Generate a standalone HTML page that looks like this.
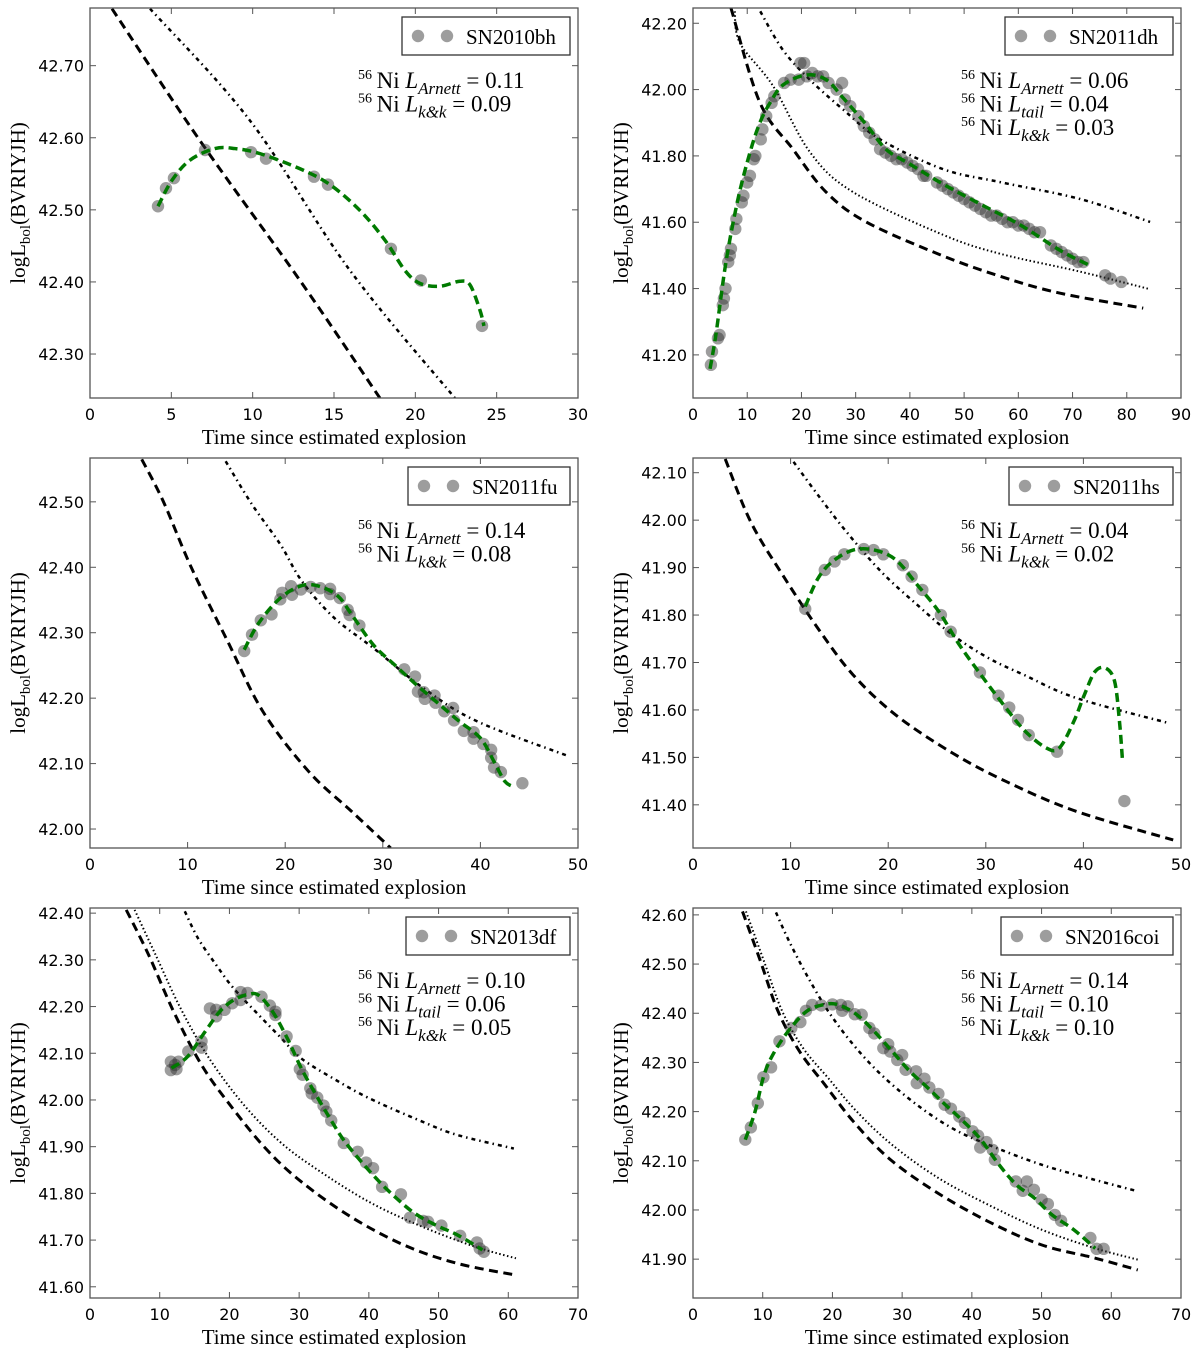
<!DOCTYPE html>
<html><head><meta charset="utf-8"><title>Bolometric light curves</title>
<style>
html,body{margin:0;padding:0;background:#fff;}
svg{display:block;}
.tick{font-family:"DejaVu Sans","Liberation Sans",sans-serif;font-size:16px;fill:#000;}
.ser{font-family:"Liberation Serif","DejaVu Serif",serif;fill:#000;}
</style></head>
<body>
<svg id="fig" width="1200" height="1348" viewBox="0 0 1200 1348" xmlns="http://www.w3.org/2000/svg"></svg>
<script>
// ---------- Panel 1: SN2010bh ----------
const p1_time = [4.18,4.67,5.16,7.07,9.90,10.82,13.77,14.63,18.5,20.34,24.1];
const p1_lum = [42.505,42.530,42.544,42.583,42.580,42.571,42.546,42.535,42.446,42.402,42.339];
const p1_fitT = [4.18,5.04,6.15,7.68,8.91,10.45,12.91,14.75,16.6,18.13,19.36,20.28,21.51,22.74,23.36,23.97,24.22];
const p1_fitL = [42.505,42.541,42.569,42.585,42.585,42.578,42.557,42.535,42.499,42.458,42.416,42.398,42.394,42.401,42.396,42.361,42.339];
const p1_arnT = [1.35,6.76,12.91,17.82];
const p1_arnL = [42.779,42.596,42.402,42.239];
const p1_kkT = [3.69,9.83,15.98,22.43];
const p1_kkL = [42.779,42.624,42.416,42.239];

// ---------- Panel 2: SN2011dh ----------
const p2_time = [3.3,3.5,4.6,4.9,5.5,5.7,6.0,6.5,6.8,7.0,7.8,8.0,9.0,9.3,10.0,10.5,11.2,11.5,12.5,12.8,13.5,14.5,15,16.8,18,19.5,19.8,20.5,21,22,23,24,25,26.5,27.5,28,29,30.5,31.5,32.5,33.5,34.5,35.5,36.5,37.5,38.5,39.5,40.5,41.5,42.5,43,45,46,47,48,49,50,51,52,53,54,55,56,57,58,59,60,61,62,63,64,66,67,68,69,70,71,72,76,77,79];
const p2_lum = [41.17,41.21,41.25,41.26,41.35,41.37,41.40,41.48,41.50,41.52,41.58,41.61,41.66,41.68,41.72,41.74,41.79,41.80,41.85,41.88,41.92,41.96,41.98,42.02,42.03,42.03,42.08,42.08,42.04,42.05,42.04,42.04,42.02,42.00,42.02,41.97,41.95,41.92,41.89,41.87,41.85,41.82,41.81,41.80,41.79,41.79,41.78,41.77,41.76,41.74,41.74,41.72,41.71,41.70,41.69,41.68,41.67,41.66,41.65,41.64,41.63,41.62,41.62,41.61,41.60,41.60,41.59,41.59,41.58,41.57,41.57,41.53,41.52,41.51,41.50,41.49,41.48,41.48,41.44,41.43,41.42];
const p2_fitT = [3.14,4.24,6.09,8.30,10.52,12.36,14.21,16.61,20.85,24.54,27.68,31.92,35.61,40.04,46.13,52.95,60.33,67.71,72.88];
const p2_fitL = [41.158,41.263,41.481,41.670,41.811,41.901,41.960,42.014,42.044,42.030,41.975,41.895,41.820,41.775,41.715,41.655,41.592,41.515,41.472];
const p2_arnT = [7.0,12.36,18.45,24.54,31.92,45.57,56.64,67.71,83.03];
const p2_arnL = [42.246,41.960,41.820,41.691,41.601,41.502,41.437,41.386,41.341];
const p2_tailT = [7.7,8.67,14.76,21.59,29.52,46.13,56.64,71.4,84.3];
const p2_tailL = [42.236,42.14,42.011,41.811,41.691,41.562,41.505,41.451,41.398];
const p2_kkT = [12.4,16.6,21.59,27.68,34.5,46.13,56.64,71.4,84.3];
const p2_kkL = [42.236,42.119,42.029,41.940,41.850,41.760,41.721,41.670,41.601];

// ---------- Panel 3: SN2011fu ----------
const p3_time = [15.8,16.6,17.5,18.6,19.5,19.7,20.6,20.7,21.6,22.6,23.6,24.6,24.6,25.6,26.4,26.6,27.6,32.2,33.3,33.6,34.2,34.3,35.3,35.4,36.3,37.2,37.3,38.3,39.3,39.3,40.3,41.1,41.1,41.4,42.1,44.3];
const p3_lum = [42.272,42.297,42.319,42.328,42.351,42.361,42.371,42.358,42.366,42.370,42.368,42.367,42.359,42.353,42.335,42.327,42.311,42.244,42.233,42.210,42.209,42.199,42.204,42.193,42.180,42.185,42.166,42.150,42.148,42.138,42.130,42.121,42.109,42.094,42.087,42.070];
const p3_fitT = [15.8,17.3,19.5,21.7,23.5,25.4,26.8,29.0,31.2,33.4,35.6,37.8,40.0,41.4,42.5,43.5];
const p3_fitL = [42.274,42.315,42.353,42.372,42.371,42.356,42.328,42.282,42.251,42.221,42.193,42.165,42.139,42.103,42.073,42.064];
const p3_arnT = [5.3,7.5,10.4,14.1,17.7,22.4,26.8,30.8];
const p3_arnL = [42.565,42.501,42.399,42.287,42.180,42.088,42.027,41.971];
const p3_kkT = [13.9,16.6,19.5,21.7,25.0,29.0,34.1,39.6,49.1];
const p3_kkL = [42.562,42.496,42.435,42.379,42.323,42.277,42.216,42.165,42.111];

// ---------- Panel 4: SN2011hs ----------
const p4_time = [11.5,13.5,14.5,15.5,17.5,18.5,19.5,21.5,22.4,23.5,25.4,26.4,29.4,31.3,32.4,33.3,34.4,37.3,44.2];
const p4_lum = [41.813,41.895,41.913,41.928,41.939,41.937,41.928,41.905,41.881,41.853,41.800,41.765,41.679,41.630,41.605,41.579,41.547,41.512,41.408];
const p4_fitT = [11.5,12.8,14.3,16.4,18.6,20.8,23.0,25.2,27.3,29.5,31.7,33.9,36.1,37.5,39.0,40.1,41.2,42.3,43.2,43.7,44.0];
const p4_fitL = [41.818,41.877,41.913,41.937,41.937,41.916,41.863,41.807,41.737,41.674,41.614,41.558,41.521,41.519,41.575,41.632,41.681,41.688,41.660,41.575,41.495];
const p4_arnT = [3.3,5.9,9.2,12.8,16.4,20.8,26.6,32.1,39.3,49.2];
const p4_arnL = [42.129,41.997,41.884,41.772,41.674,41.589,41.509,41.449,41.386,41.326];
const p4_kkT = [10.3,12.8,15.7,19.3,23.0,26.6,30.3,33.9,39.3,48.8];
const p4_kkL = [42.123,42.053,41.976,41.891,41.821,41.758,41.709,41.674,41.625,41.572];

// ---------- Panel 5: SN2013df ----------
const p5_time = [11.6,11.6,12.4,12.7,12.2,14.1,16.0,16.0,18.1,17.2,18.1,19.3,20.4,21.6,21.6,22.6,24.6,25.8,26.6,26.6,28.2,29.5,30.1,30.5,31.6,31.8,32.6,33.5,33.9,34.6,36.4,38.4,39.6,40.6,41.9,44.6,45.9,47.8,48.5,50.4,53.1,55.5,56.5,55.9];
const p5_lum = [42.064,42.082,42.066,42.082,42.075,42.104,42.126,42.112,42.179,42.196,42.193,42.193,42.207,42.214,42.231,42.229,42.221,42.202,42.189,42.182,42.136,42.105,42.066,42.054,42.025,42.014,42.005,41.988,41.975,41.956,41.908,41.889,41.866,41.854,41.814,41.798,41.748,41.741,41.739,41.731,41.709,41.695,41.675,41.682];
const p5_fitT = [11.7,14.0,16.5,18.6,20.6,22.7,24.2,26.2,28.3,30.3,32.3,34.4,36.4,38.9,41.5,44.0,46.6,49.6,52.7,56.3];
const p5_fitL = [42.068,42.093,42.146,42.189,42.214,42.226,42.224,42.189,42.132,42.068,42.014,41.961,41.914,41.868,41.825,41.789,41.757,41.732,41.711,41.679];
const p5_arnT = [5.2,8.4,12.0,16.0,20.1,25.2,30.3,37.4,45.1,52.7,61.1];
const p5_arnL = [42.407,42.311,42.189,42.075,41.989,41.896,41.825,41.750,41.689,41.650,41.625];
const p5_tailT = [6.4,9.4,13.0,17.1,22.1,27.2,32.3,40.0,47.6,55.2,61.1];
const p5_tailL = [42.407,42.311,42.196,42.089,41.989,41.911,41.854,41.782,41.729,41.686,41.661];
const p5_kkT = [13.6,15.5,18.1,20.6,24.2,27.2,30.3,34.9,40.0,47.6,52.7,60.8];
const p5_kkL = [42.404,42.346,42.289,42.239,42.182,42.136,42.089,42.046,42.004,41.954,41.925,41.896];

// ---------- Panel 6: SN2016coi ----------
const p6_time = [7.5,8.3,9.3,10.1,11.2,12.4,14.1,15.4,16.2,17.1,18.4,20.0,21.2,21.4,22.2,23.2,24.2,25.3,26.0,27.3,28.0,28.3,29.3,30.0,30.5,32.0,32.1,33.2,33.9,35.2,36.1,37.0,38.2,39.0,40.1,40.9,41.2,42.1,43.0,43.3,46.3,47.3,47.9,48.9,50.0,50.9,51.9,52.8,57.0,57.9,58.9];
const p6_lum = [42.143,42.168,42.217,42.270,42.290,42.343,42.370,42.382,42.405,42.417,42.416,42.418,42.417,42.405,42.414,42.398,42.397,42.370,42.359,42.329,42.337,42.322,42.305,42.315,42.285,42.282,42.258,42.267,42.249,42.236,42.214,42.206,42.190,42.177,42.160,42.151,42.127,42.138,42.122,42.102,42.058,42.039,42.058,42.041,42.021,42.012,41.990,41.978,41.943,41.921,41.921];
const p6_fitT = [7.5,8.9,10.2,11.7,13.8,16.3,18.9,20.9,23.5,26.0,28.6,31.1,33.7,36.2,38.8,41.3,43.9,46.4,49.0,51.5,54.6,57.7];
const p6_fitL = [42.143,42.200,42.275,42.322,42.366,42.404,42.418,42.417,42.397,42.363,42.322,42.282,42.248,42.214,42.180,42.143,42.092,42.051,42.024,41.990,41.960,41.922];
const p6_arnT = [7.1,9.7,12.2,15.3,18.9,23.0,28.1,34.7,42.3,50.0,57.7,63.8];
const p6_arnL = [42.607,42.505,42.404,42.322,42.255,42.180,42.105,42.038,41.977,41.929,41.902,41.878];
const p6_tailT = [7.6,10.2,12.8,15.8,19.4,23.5,28.6,35.2,42.3,50.0,57.7,63.8];
const p6_tailL = [42.607,42.505,42.404,42.329,42.268,42.200,42.132,42.065,42.011,41.960,41.922,41.899];
const p6_kkT = [11.9,13.8,16.3,19.4,23.0,27.0,32.1,37.2,42.3,50.0,57.7,63.8];
const p6_kkL = [42.605,42.546,42.478,42.404,42.336,42.275,42.214,42.166,42.133,42.092,42.061,42.038];

// ---------- tick arrays ----------
const p1_xticks = [0,5,10,15,20,25,30];
const p1_yticks = [42.30,42.40,42.50,42.60,42.70];
const p2_xticks = [0,10,20,30,40,50,60,70,80,90];
const p2_yticks = [41.20,41.40,41.60,41.80,42.00,42.20];
const p3_xticks = [0,10,20,30,40,50];
const p3_yticks = [42.00,42.10,42.20,42.30,42.40,42.50];
const p4_xticks = [0,10,20,30,40,50];
const p4_yticks = [41.40,41.50,41.60,41.70,41.80,41.90,42.00,42.10];
const p5_xticks = [0,10,20,30,40,50,60,70];
const p5_yticks = [41.60,41.70,41.80,41.90,42.00,42.10,42.20,42.30,42.40];
const p6_xticks = [0,10,20,30,40,50,60,70];
const p6_yticks = [41.90,42.00,42.10,42.20,42.30,42.40,42.50,42.60];

const NS = "http://www.w3.org/2000/svg";
const fig = document.getElementById('fig');
function mk(tag, attrs, parent){
  const e = document.createElementNS(NS, tag);
  for (const k in attrs) e.setAttribute(k, attrs[k]);
  (parent||fig).appendChild(e);
  return e;
}
function smoothPath(pts){
  if (pts.length < 2) return '';
  let d = 'M' + pts[0][0].toFixed(2) + ',' + pts[0][1].toFixed(2);
  for (let i = 0; i < pts.length - 1; i++){
    const p0 = pts[i-1] || pts[i], p1 = pts[i], p2 = pts[i+1], p3 = pts[i+2] || p2;
    const c1x = p1[0] + (p2[0]-p0[0])/6, c1y = p1[1] + (p2[1]-p0[1])/6;
    const c2x = p2[0] - (p3[0]-p1[0])/6, c2y = p2[1] - (p3[1]-p1[1])/6;
    d += ' C' + c1x.toFixed(2)+','+c1y.toFixed(2)+' '+c2x.toFixed(2)+','+c2y.toFixed(2)+' '+p2[0].toFixed(2)+','+p2[1].toFixed(2);
  }
  return d;
}

const panels = [
 {id:'sn2010bh', name:'SN2010bh', left:90, top:8, xmax:30, ymin:42.239, ymax:42.780, xt:p1_xticks, yt:p1_yticks, yfmt:2,
  t:p1_time, l:p1_lum, fT:p1_fitT, fL:p1_fitL, aT:p1_arnT, aL:p1_arnL, tT:null, tL:null, kT:p1_kkT, kL:p1_kkL,
  notes:[['Arnett','0.11'],['k&k','0.09']], legW:168},
 {id:'sn2011dh', name:'SN2011dh', left:693, top:8, xmax:90, ymin:41.070, ymax:42.246, xt:p2_xticks, yt:p2_yticks, yfmt:2,
  t:p2_time, l:p2_lum, fT:p2_fitT, fL:p2_fitL, aT:p2_arnT, aL:p2_arnL, tT:p2_tailT, tL:p2_tailL, kT:p2_kkT, kL:p2_kkL,
  notes:[['Arnett','0.06'],['tail','0.04'],['k&k','0.03']], legW:168},
 {id:'sn2011fu', name:'SN2011fu', left:90, top:458, xmax:50, ymin:41.971, ymax:42.567, xt:p3_xticks, yt:p3_yticks, yfmt:2,
  t:p3_time, l:p3_lum, fT:p3_fitT, fL:p3_fitL, aT:p3_arnT, aL:p3_arnL, tT:null, tL:null, kT:p3_kkT, kL:p3_kkL,
  notes:[['Arnett','0.14'],['k&k','0.08']], legW:162},
 {id:'sn2011hs', name:'SN2011hs', left:693, top:458, xmax:50, ymin:41.309, ymax:42.131, xt:p4_xticks, yt:p4_yticks, yfmt:2,
  t:p4_time, l:p4_lum, fT:p4_fitT, fL:p4_fitL, aT:p4_arnT, aL:p4_arnL, tT:null, tL:null, kT:p4_kkT, kL:p4_kkL,
  notes:[['Arnett','0.04'],['k&k','0.02']], legW:164},
 {id:'sn2013df', name:'SN2013df', left:90, top:908, xmax:70, ymin:41.576, ymax:42.411, xt:p5_xticks, yt:p5_yticks, yfmt:2,
  t:p5_time, l:p5_lum, fT:p5_fitT, fL:p5_fitL, aT:p5_arnT, aL:p5_arnL, tT:p5_tailT, tL:p5_tailL, kT:p5_kkT, kL:p5_kkL,
  notes:[['Arnett','0.10'],['tail','0.06'],['k&k','0.05']], legW:164},
 {id:'sn2016coi', name:'SN2016coi', left:693, top:908, xmax:70, ymin:41.821, ymax:42.614, xt:p6_xticks, yt:p6_yticks, yfmt:2,
  t:p6_time, l:p6_lum, fT:p6_fitT, fL:p6_fitL, aT:p6_arnT, aL:p6_arnL, tT:p6_tailT, tL:p6_tailL, kT:p6_kkT, kL:p6_kkL,
  notes:[['Arnett','0.14'],['tail','0.10'],['k&k','0.10']], legW:172}
];

const W = 488, H = 390;
panels.forEach(function(p){
  const g = mk('g', {});
  
  
  const xs = function(v){ return p.left + v / p.xmax * W; };
  const ys = function(v){ return p.top + (p.ymax - v) / (p.ymax - p.ymin) * H; };
  const clipId = 'clip-' + p.id;
  const cp = mk('clipPath', {id:clipId}, g);
  mk('rect', {x:p.left, y:p.top, width:W, height:H}, cp);
  const plot = mk('g', {'clip-path':'url(#'+clipId+')'}, g);
  
  

  function curve(T, L, style, nm){
    if (!T) return;
    const pts = T.map(function(t,i){ return [xs(t), ys(L[i])]; });
    const path = mk('path', Object.assign({d:smoothPath(pts), fill:'none', 'stroke-linecap':'butt'}, style), plot);
    
    
  }
  curve(p.aT, p.aL, {stroke:'#000','stroke-width':3,'stroke-dasharray':'9 5.5'}, 'arnett-curve');
  curve(p.tT, p.tL, {stroke:'#000','stroke-width':2,'stroke-dasharray':'1.5 2.5'}, 'tail-curve');
  curve(p.kT, p.kL, {stroke:'#000','stroke-width':2.5,'stroke-dasharray':'4 4 1.5 4'}, 'kk-curve');

  p.t.forEach(function(t,i){
    const c = mk('circle', {cx:xs(t).toFixed(2), cy:ys(p.l[i]).toFixed(2), r:6.2, fill:'#333', 'fill-opacity':0.48}, plot);
    
    
  });
  curve(p.fT, p.fL, {stroke:'#007a00','stroke-width':3.5,'stroke-dasharray':'9 5'}, 'fit-curve');

  const fr = mk('rect', {x:p.left, y:p.top, width:W, height:H, fill:'none', stroke:'#555', 'stroke-width':1.3}, g);
  
  

  p.xt.forEach(function(v){
    const x = xs(v);
    mk('line', {x1:x, y1:p.top+H, x2:x, y2:p.top+H-6, stroke:'#555','stroke-width':1}, g);
    mk('line', {x1:x, y1:p.top, x2:x, y2:p.top+6, stroke:'#555','stroke-width':1}, g);
    const tx = mk('text', {x:x, y:p.top+H+22, 'text-anchor':'middle', class:'tick'}, g);
    tx.textContent = String(v);
    
    
  });
  p.yt.forEach(function(v){
    const y = ys(v);
    mk('line', {x1:p.left, y1:y, x2:p.left+6, y2:y, stroke:'#555','stroke-width':1}, g);
    mk('line', {x1:p.left+W, y1:y, x2:p.left+W-6, y2:y, stroke:'#555','stroke-width':1}, g);
    const ty = mk('text', {x:p.left-6, y:y+6, 'text-anchor':'end', class:'tick'}, g);
    ty.textContent = v.toFixed(p.yfmt);
    
    
  });
  const xl = mk('text', {x:p.left+W/2, y:p.top+H+46, 'text-anchor':'middle', class:'ser', 'font-size':21}, g);
  xl.textContent = 'Time since estimated explosion';
  
  
  const cy = p.top + H/2;
  const yl = mk('text', {x:0, y:0, 'text-anchor':'middle', class:'ser', 'font-size':21, transform:'translate('+(p.left-65)+','+cy+') rotate(-90)'}, g);
  
  
  const s1 = mk('tspan', {}, yl); s1.textContent = 'logL';
  const s2 = mk('tspan', {dy:5, 'font-size':15}, yl); s2.textContent = 'bol';
  const s3 = mk('tspan', {dy:-5}, yl); s3.textContent = '(BVRIYJH)';

  const lx = p.left + W - 8 - p.legW, ly = p.top + 9;
  const lg = mk('g', {}, g);
  
  
  mk('rect', {x:lx, y:ly, width:p.legW, height:38, fill:'#fff', stroke:'#333', 'stroke-width':1.3}, lg);
  mk('circle', {cx:lx+16, cy:ly+19, r:6.2, fill:'#333','fill-opacity':0.48}, lg);
  mk('circle', {cx:lx+45, cy:ly+19, r:6.2, fill:'#333','fill-opacity':0.48}, lg);
  const lt = mk('text', {x:lx+64, y:ly+27, class:'ser', 'font-size':21}, lg);
  lt.textContent = p.name;
  
  

  p.notes.forEach(function(n, i){
    const t = mk('text', {x:p.left+268, y:p.top+80+i*23.5, class:'ser', 'font-size':23}, g);
    
    
    const a = mk('tspan', {'font-size':14, dy:-9}, t); a.textContent = '56';
    const b = mk('tspan', {dy:9}, t); b.textContent = '\u2009Ni ';
    const c = mk('tspan', {'font-style':'italic'}, t); c.textContent = 'L';
    const d = mk('tspan', {'font-style':'italic','font-size':17, dy:6}, t); d.textContent = n[0];
    const e = mk('tspan', {dy:-6}, t); e.textContent = ' = ' + n[1];
  });
});
</script>
</body></html>
